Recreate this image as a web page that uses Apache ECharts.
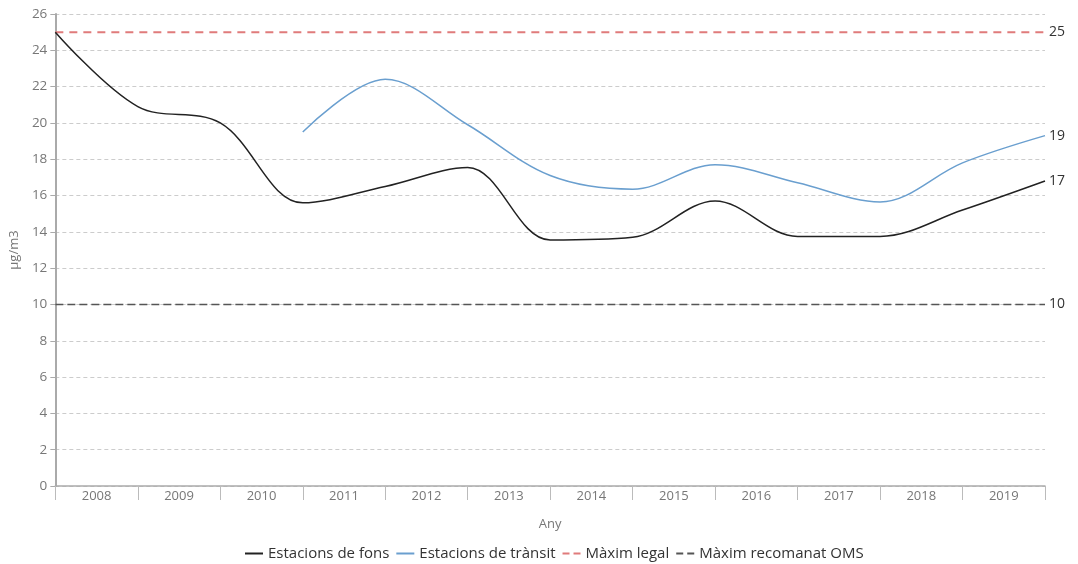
<!DOCTYPE html>
<html><head><meta charset="utf-8">
<script src="https://cdn.jsdelivr.net/npm/echarts@6/dist/echarts.min.js"></script>
<style>html,body{margin:0;padding:0;background:#fff}#c{width:1078px;height:564px}</style>
</head><body><div id="c"></div>
<script>
const years = ['2008','2009','2010','2011','2012','2013','2014','2015','2016','2017','2018','2019'];
const boundaries = ['b0','b1','b2','b3','b4','b5','b6','b7','b8','b9','b10','b11','b12'];
const fons = [25, 20.9, 20.0, 15.6, 16.5, 17.55, 13.55, 13.7, 15.7, 13.75, 13.75, 15.2, 16.8];
const transit = [null, null, null, 19.5, 22.4, 19.9, 17.1, 16.35, 17.7, 16.7, 15.65, 17.8, 19.3];
const maximLegal = [25,25,25,25,25,25,25,25,25,25,25,25,25];
const maximOMS = [10,10,10,10,10,10,10,10,10,10,10,10,10];
const yTicks = {min:0, max:26, interval:2};

const font = 'Open Sans';
const chart = echarts.init(document.getElementById('c'));
function endLab(){
  return {show:true, formatter:p=>String(Math.round(p.value)), color:'#333', fontSize:14, fontFamily:font, distance:4};
}
chart.setOption({
  animation:false,
  textStyle:{fontFamily:font},
  grid:{left:53, right:33, top:14, bottom:78},
  legend:{
    top:541, left:240, itemWidth:18, itemHeight:2, itemGap:7,
    textStyle:{fontSize:15, color:'#333', fontFamily:font},
    icon:'path://M0,0L18,0L18,2L0,2Z',
    data:[
      {name:'Estacions de fons'},
      {name:'Estacions de trànsit'},
      {name:'Màxim legal', icon:'path://M0,0L7,0L7,2L0,2ZM11,0L18,0L18,2L11,2Z'},
      {name:'Màxim recomanat OMS', icon:'path://M0,0L7,0L7,2L0,2ZM11,0L18,0L18,2L11,2Z'}
    ]
  },
  xAxis:[
    {type:'category', data:years, boundaryGap:true, name:'Any', nameLocation:'middle', nameGap:32,
     nameTextStyle:{color:'#777', fontSize:13},
     axisLine:{lineStyle:{color:'#aaa', width:1.5}},
     axisTick:{show:true, alignWithLabel:false, length:14, lineStyle:{color:'#bbb'}},
     axisLabel:{color:'#777', fontSize:13, margin:4}},
    {type:'category', data:boundaries, boundaryGap:false, show:false}
  ],
  yAxis:{type:'value', min:yTicks.min, max:yTicks.max, interval:yTicks.interval,
    name:'µg/m3', nameLocation:'middle', nameGap:28, nameRotate:90,
    nameTextStyle:{color:'#777', fontSize:13},
    axisLine:{show:true, lineStyle:{color:'#aaa', width:2}},
    axisTick:{show:true, length:5, lineStyle:{color:'#aaa'}},
    axisLabel:{color:'#777', fontSize:13.5, margin:8},
    splitLine:{lineStyle:{color:'#ccc', type:[4,3]}}
  },
  series:[
    {name:'Estacions de fons', type:'line', xAxisIndex:1, data:fons, smooth:0.35, showSymbol:false, symbol:'none',
     color:'#222', lineStyle:{color:'#222', width:1.5}, endLabel:endLab(), z:5},
    {name:'Estacions de trànsit', type:'line', xAxisIndex:1, data:transit, smooth:0.35, showSymbol:false, symbol:'none',
     color:'#6a9fcf', lineStyle:{color:'#6a9fcf', width:1.5}, endLabel:endLab(), z:5},
    {name:'Màxim legal', type:'line', xAxisIndex:1, data:maximLegal, showSymbol:false, symbol:'none',
     color:'#e07b7b', lineStyle:{color:'#e07b7b', width:2, type:[8,6]}, endLabel:endLab(), z:4},
    {name:'Màxim recomanat OMS', type:'line', xAxisIndex:1, data:maximOMS, showSymbol:false, symbol:'none',
     color:'#555', lineStyle:{color:'#555', width:1.5, type:[8,4]}, endLabel:endLab(), z:4}
  ]
});
</script></body></html>
